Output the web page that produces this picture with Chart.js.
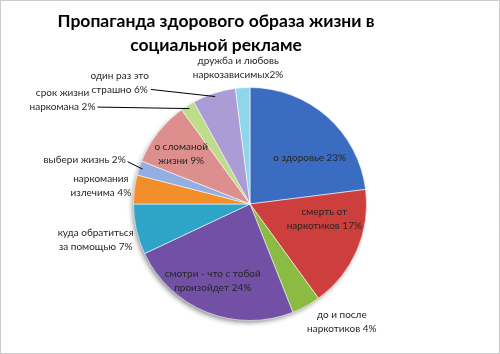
<!DOCTYPE html>
<html>
<head>
<meta charset="utf-8">
<script src="https://cdn.jsdelivr.net/npm/chart.js@4"></script>
<style>
  html, body { margin: 0; padding: 0; background: #fff; }
  #wrap { width: 500px; height: 354px; position: relative; }
</style>
</head>
<body>
<div id="wrap"><canvas id="pieChart" width="500" height="354"></canvas></div>
<script>
const titulo = ["Пропаганда здорового образа жизни в", "социальной рекламе"];

const categorias = [
  ["о здоровье"],
  ["смерть от", "наркотиков"],
  ["до и после", "наркотиков"],
  ["смотри - что с тобой", "произойдет"],
  ["куда обратиться", "за помощью"],
  ["наркомания", "излечима"],
  ["выбери жизнь"],
  ["о сломаной", "жизни"],
  ["срок жизни", "наркомана"],
  ["один раз это", "страшно"],
  ["дружба и любовь", "наркозависимых"],
];
const porcentajes = [23, 17, 4, 24, 7, 4, 2, 9, 2, 6, 2];

const colores = [
  "#3a6cc2", "#cc3f3c", "#8cbb44", "#7250a6", "#2ea4c8", "#f38f2a",
  "#93aee2", "#dd8f8d", "#bfdc8b", "#ab9cd6", "#8fd6ea",
];

// placement of each label: [angle in degrees from top, distance in radii], leader line?
const etiquetas = [
  [52, 0.65, false],
  [101, 0.65, false],
  [142, 1.28, false],
  [206, 0.73, false],
  [257, 1.36, false],
  [277, 1.29, false],
  [285, 1.47, true],
  [306, 0.73, false],
  [299, 1.84, true],
  [313, 1.53, true],
  [355, 1.17, false],
];

const marcoYTitulo = {
  id: "marcoYTitulo",
  beforeDatasetsDraw(chart) {
    const ctx = chart.ctx;
    const arc = chart.getDatasetMeta(0).data[0];
    ctx.save();
    ctx.shadowColor = "rgba(0,0,0,0.45)";
    ctx.shadowBlur = 5;
    ctx.shadowOffsetX = -2;
    ctx.shadowOffsetY = 3;
    ctx.fillStyle = "#fff";
    ctx.beginPath();
    ctx.arc(arc.x, arc.y, arc.outerRadius - 1, 0, Math.PI * 2);
    ctx.fill();
    ctx.restore();
  },
  afterDraw(chart) {
    const ctx = chart.ctx;
    ctx.save();
    ctx.strokeStyle = "#999";
    ctx.setLineDash([1, 1]);
    ctx.strokeRect(0.5, 0.5, 499, 353);
    ctx.setLineDash([]);
    ctx.fillStyle = "#000";
    ctx.font = "bold 17.5px Lato";
    ctx.textAlign = "center";
    ctx.textBaseline = "middle";
    ctx.fillText(titulo[0], 216, 21);
    ctx.fillText(titulo[1], 216, 45);
    ctx.restore();
  },
};

const rotulos = {
  id: "rotulos",
  afterDatasetsDraw(chart) {
    const ctx = chart.ctx;
    const arcs = chart.getDatasetMeta(0).data;
    ctx.save();
    ctx.font = "10px Lato";
    ctx.fillStyle = "#262626";
    ctx.textBaseline = "middle";
    arcs.forEach((arc, i) => {
      const [ang, dist, linea] = etiquetas[i];
      const r = arc.outerRadius;
      const a = (ang * Math.PI) / 180;
      const x = arc.x + Math.sin(a) * r * dist;
      const y = arc.y - Math.cos(a) * r * dist;
      const lineas = categorias[i].slice();
      const ultima = lineas.length - 1;
      lineas[ultima] = lineas[ultima] + (i === 10 ? "" : " ") + porcentajes[i] + "%";
      const ancho = Math.max(...lineas.map((l) => ctx.measureText(l).width));
      const alto = 14;
      ctx.textAlign = "center";
      lineas.forEach((l, k) => {
        ctx.fillText(l, x, y + (k - (lineas.length - 1) / 2) * alto);
      });
      if (linea) {
        const mid = (arc.startAngle + arc.endAngle) / 2;
        const px = arc.x + Math.cos(mid) * r * 0.97;
        const py = arc.y + Math.sin(mid) * r * 0.97;
        const lx = x + ancho / 2 + 2;
        const ly = y + (lineas.length > 1 ? alto / 2 : 2);
        ctx.strokeStyle = "#000";
        ctx.lineWidth = 1;
        ctx.beginPath();
        ctx.moveTo(lx, ly);
        ctx.lineTo(px, py);
        ctx.stroke();
      }
    });
    ctx.restore();
  },
};

new Chart(document.getElementById("pieChart"), {
  type: "pie",
  data: {
    labels: categorias.map((c) => c.join(" ")),
    datasets: [
      {
        data: porcentajes,
        backgroundColor: colores,
        borderColor: "rgba(255,255,255,0.55)",
        borderWidth: 1,
      },
    ],
  },
  options: {
    responsive: false,
    animation: false,
    layout: { padding: { top: 87, bottom: 33, left: 133, right: 133 } },
    plugins: {
      legend: { display: false },
      tooltip: { enabled: false },
    },
  },
  plugins: [marcoYTitulo, rotulos],
});
</script>
</body>
</html>
